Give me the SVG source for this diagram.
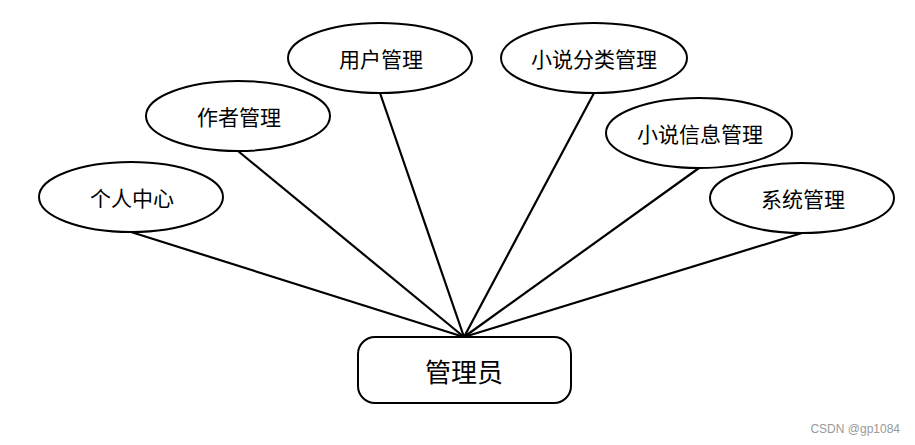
<svg xmlns="http://www.w3.org/2000/svg" width="915" height="445" viewBox="0 0 915 445">
<style>
.n{fill:#fff;stroke:#000;stroke-width:2}
.t{font-family:"Noto Sans CJK SC","Noto Sans",sans-serif;font-size:21px;fill:#000;text-anchor:middle;dominant-baseline:central}
.c line{stroke:#000;stroke-width:2.2}
</style>
<rect width="915" height="445" fill="#fff"/>
<g class="c" id="connectors">
<line x1="131" y1="232" x2="464" y2="337"/>
<line x1="238" y1="151" x2="464" y2="337"/>
<line x1="380" y1="93" x2="464" y2="337"/>
<line x1="594" y1="93" x2="464" y2="337"/>
<line x1="699" y1="168" x2="464" y2="337"/>
<line x1="802" y1="233" x2="464" y2="337"/>
</g>
<g id="n1"><ellipse class="n" cx="131" cy="197" rx="92" ry="35"/><text class="t" x="132" y="197">个人中心</text></g>
<g id="n2"><ellipse class="n" cx="238" cy="116" rx="92" ry="35"/><text class="t" x="239" y="116">作者管理</text></g>
<g id="n3"><ellipse class="n" cx="380" cy="58" rx="92" ry="35"/><text class="t" x="381" y="58">用户管理</text></g>
<g id="n4"><ellipse class="n" cx="594" cy="58" rx="93" ry="35"/><text class="t" x="594" y="58">小说分类管理</text></g>
<g id="n5"><ellipse class="n" cx="699" cy="133" rx="93" ry="35"/><text class="t" x="700" y="133">小说信息管理</text></g>
<g id="n6"><ellipse class="n" cx="802" cy="198" rx="92" ry="35"/><text class="t" x="803" y="198">系统管理</text></g>
<g id="n0"><rect class="n" x="358" y="337" width="213" height="66" rx="17"/><text class="t" x="464" y="370" style="font-size:26px">管理员</text></g>
<text x="900" y="433" style="font-family:'Liberation Sans',sans-serif;font-size:12px;fill:#999;text-anchor:end">CSDN @gp1084</text>
</svg>
